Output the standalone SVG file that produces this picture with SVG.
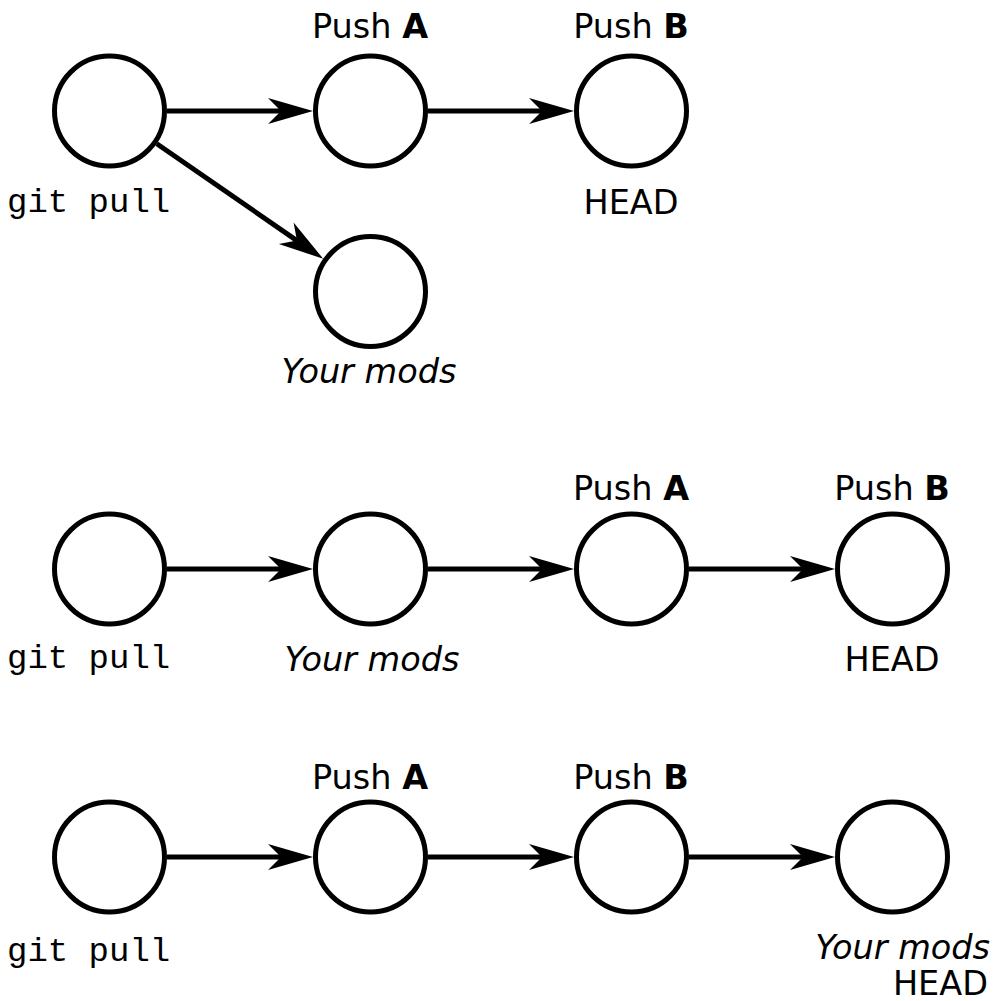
<svg xmlns="http://www.w3.org/2000/svg" width="994" height="1001" viewBox="0 0 994 1001">
<style>
.n{fill:#fff;stroke:#000;stroke-width:5}
.e{fill:none;stroke:#000;stroke-width:5;marker-end:url(#ah)}
.t{font-family:"DejaVu Sans",sans-serif;font-size:33.5px;fill:#000;text-anchor:middle}
.b{font-weight:bold}
.i{font-style:italic}
.m{font-family:"Liberation Mono",monospace;font-size:34px;fill:#000}
</style>
<defs>
<marker id="ah" markerUnits="userSpaceOnUse" orient="auto" refX="0" refY="0" markerWidth="50" markerHeight="30" overflow="visible">
<path d="M32,0 L-13,-13 L0,0 L-13,13 Z" fill="#000"/>
</marker>
</defs>
<rect width="994" height="1001" fill="#fff"/>
<g id="connectors">
<line class="e" x1="167" y1="111" x2="281" y2="111"/>
<line class="e" x1="428" y1="111" x2="542" y2="111"/>
<line class="e" x1="156.8" y1="143.7" x2="296.9" y2="240.6"/>
<line class="e" x1="167" y1="569" x2="281" y2="569"/>
<line class="e" x1="428" y1="569" x2="542" y2="569"/>
<line class="e" x1="689" y1="569" x2="803" y2="569"/>
<line class="e" x1="167" y1="857" x2="281" y2="857"/>
<line class="e" x1="428" y1="857" x2="542" y2="857"/>
<line class="e" x1="689" y1="857" x2="803" y2="857"/>
</g>
<g id="r1n1"><circle class="n" cx="109.5" cy="111" r="55"/><text class="m" x="7" y="212">git pull</text></g>
<g id="r1n2"><circle class="n" cx="370.5" cy="111" r="55"/><text class="t" x="370" y="38">Push <tspan class="b">A</tspan></text></g>
<g id="r1n3"><circle class="n" cx="631.5" cy="111" r="55"/><text class="t" x="631" y="38">Push <tspan class="b">B</tspan></text><text class="t" x="631" y="214">HEAD</text></g>
<g id="r1n4"><circle class="n" cx="370.5" cy="291.5" r="55"/><text class="t i" x="369" y="383">Your mods</text></g>
<g id="r2n1"><circle class="n" cx="109.5" cy="569" r="55"/><text class="m" x="7" y="668">git pull</text></g>
<g id="r2n2"><circle class="n" cx="370.5" cy="569" r="55"/><text class="t i" x="372" y="671">Your mods</text></g>
<g id="r2n3"><circle class="n" cx="631.5" cy="569" r="55"/><text class="t" x="631" y="500">Push <tspan class="b">A</tspan></text></g>
<g id="r2n4"><circle class="n" cx="892.5" cy="569" r="55"/><text class="t" x="892" y="500">Push <tspan class="b">B</tspan></text><text class="t" x="892" y="671">HEAD</text></g>
<g id="r3n1"><circle class="n" cx="109.5" cy="857" r="55"/><text class="m" x="7" y="961">git pull</text></g>
<g id="r3n2"><circle class="n" cx="370.5" cy="857" r="55"/><text class="t" x="370" y="789">Push <tspan class="b">A</tspan></text></g>
<g id="r3n3"><circle class="n" cx="631.5" cy="857" r="55"/><text class="t" x="631" y="789">Push <tspan class="b">B</tspan></text></g>
<g id="r3n4"><circle class="n" cx="892.5" cy="857" r="55"/><text class="t i" x="990" y="959" style="text-anchor:end">Your mods</text><text class="t" x="988" y="995" style="text-anchor:end">HEAD</text></g>
</svg>
